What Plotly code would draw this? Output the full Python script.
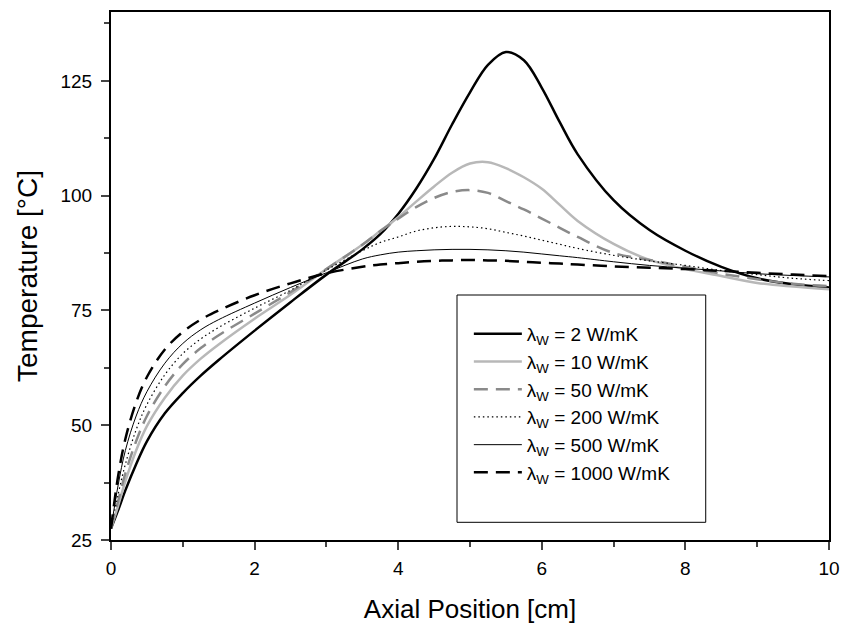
import plotly.graph_objects as go

x_cm = [0, 0.1, 0.2, 0.35, 0.5, 0.75, 1, 1.25, 1.5, 2, 2.5, 3, 3.5, 3.75, 4, 4.25, 4.5, 4.75,
        5, 5.25, 5.5, 5.75, 6, 6.25, 6.5, 7, 7.5, 8, 8.5, 9, 9.5, 10]

t_2 = [27.5, 31.5, 35.8, 41.5, 46.5, 52.6, 57, 60.8, 64.2, 70.6, 76.8, 82.8, 88.3, 91.6, 96, 101.5, 108, 115.5,
       122.5, 128.5, 131.3, 129.5, 123.5, 116, 109, 99, 92.5, 88, 84.5, 82, 80.7, 80]
t_10 = [27.5, 32.5, 37.8, 44.5, 49.8, 56, 60.8, 64.5, 67.6, 73.2, 78.4, 84, 89.3, 92.3, 95.3, 98.7, 102, 105,
        107, 107.3, 106, 104, 101.5, 98, 94.5, 89.5, 86, 84, 82.5, 81, 80.2, 79.6]
t_50 = [27.5, 33.5, 39.5, 46.5, 52, 58.5, 63.3, 66.8, 69.6, 74.3, 79, 84, 89.3, 92.3, 95, 97.5, 99.5, 100.8,
        101.2, 100.6, 98.8, 97, 95, 93, 91, 87.5, 86, 84.5, 83, 81.8, 80.8, 80.3]
t_200 = [27.5, 35, 41.5, 49, 54.5, 61, 65.6, 68.8, 71.3, 75.5, 79.4, 83.8, 88, 89.8, 91, 92.3, 93, 93.3,
         93.2, 92.8, 92, 91.2, 90.3, 89.4, 88.5, 87, 85.8, 84.8, 83.7, 82.8, 82, 81.5]
t_500 = [27.5, 37, 44.5, 52, 57.3, 63.5, 67.8, 70.8, 73, 76.6, 80, 83.2, 86.2, 87.1, 87.7, 88, 88.2, 88.3,
         88.3, 88.2, 88, 87.7, 87.3, 86.9, 86.5, 85.6, 84.8, 84.2, 83.6, 83, 82.6, 82.3]
t_1000 = [27.5, 39, 47, 55, 60.5, 66.5, 70.3, 73, 75, 78.3, 80.9, 83.1, 84.5, 85, 85.3, 85.6, 85.8, 85.9,
          86, 85.9, 85.8, 85.6, 85.4, 85.2, 85, 84.6, 84.3, 84, 83.6, 83.2, 82.8, 82.5]

labels = ["2", "10", "50", "200", "500", "1000"]
y_ticks = [25, 50, 75, 100, 125]
x_ticks = [0, 2, 4, 6, 8, 10]

series = [t_2, t_10, t_50, t_200, t_500, t_1000]
styles = [
    dict(color="black", width=2.5, dash="solid"),
    dict(color="#b8b8b8", width=2.5, dash="solid"),
    dict(color="#8a8a8a", width=2.5, dash="14px,8px"),
    dict(color="black", width=1.2, dash="1.5px,3px"),
    dict(color="black", width=1, dash="solid"),
    dict(color="black", width=2.5, dash="14px,8px"),
]

fig = go.Figure()
for lab, ys, st in zip(labels, series, styles):
    fig.add_trace(go.Scatter(
        x=x_cm, y=ys, mode="lines", line=dict(shape="spline", smoothing=1.0, **st),
        name=f"λ<sub>W</sub> = {lab} W/mK",
    ))

font_family = "Liberation Sans, Arial, sans-serif"
fig.update_layout(
    width=842, height=624,
    margin=dict(l=111, r=13, t=12, b=84),
    paper_bgcolor="white", plot_bgcolor="white",
    font=dict(family=font_family, color="black", size=19),
    showlegend=True,
    legend=dict(
        x=0.4984, y=0.4261, xanchor="left", yanchor="top",
        borderwidth=0, bgcolor="rgba(0,0,0,0)",
        font=dict(size=19, family=font_family),
        tracegroupgap=0, itemwidth=48,
    ),
    shapes=[dict(
        type="rect", xref="paper", yref="paper",
        x0=0.4819, x1=0.8283, y0=0.0335, y1=0.464,
        line=dict(color="black", width=1), fillcolor="white", layer="below",
    )],
    hovermode=False,
)
fig.update_xaxes(
    range=[0, 10], tickvals=x_ticks, ticks="outside", ticklen=8, tickwidth=2,
    showline=True, linecolor="black", linewidth=2, mirror=True, showgrid=False, zeroline=False,
    minor=dict(dtick=1, tick0=0, ticks="outside", ticklen=5, tickwidth=2, showgrid=False),
    title=dict(text="Axial Position [cm]", font=dict(size=26), standoff=23),
    tickfont=dict(size=19), ticklabelstandoff=2, automargin=False,
)
fig.update_yaxes(
    range=[25, 140], tickvals=y_ticks, ticks="outside", ticklen=8, tickwidth=2,
    showline=True, linecolor="black", linewidth=2, mirror=True, showgrid=False, zeroline=False,
    minor=dict(dtick=12.5, tick0=25, ticks="outside", ticklen=5, tickwidth=2, showgrid=False),
    title=dict(text="Temperature [°C]", font=dict(size=28), standoff=15),
    tickfont=dict(size=19), ticklabelstandoff=5, automargin=False,
)

fig.write_html(
    "out.html",
    config={"displayModeBar": False, "staticPlot": True},
    post_script="document.body.style.margin='0px';document.body.style.overflow='hidden';",
)
